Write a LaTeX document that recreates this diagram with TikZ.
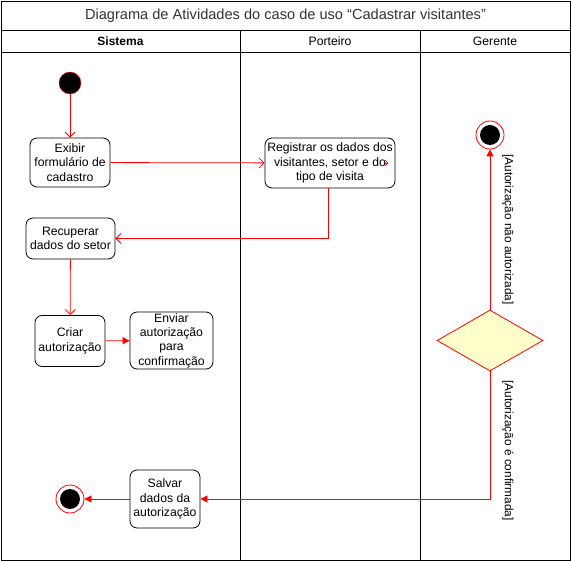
\documentclass[tikz,border=0pt]{standalone}
\usepackage{fontspec}
\setmainfont{Liberation Sans}
\usetikzlibrary{arrows.meta,shapes.geometric,positioning}

\tikzset{
  acao/.style={draw, line width=0.8pt, rounded corners=7pt, fill=white, align=center, inner sep=0pt},
  fluxo/.style={draw=red, line width=0.8pt, -{Straight Barb[length=5pt,width=10pt]}},
  fluxocheio/.style={draw=red, line width=0.8pt, -{Triangle[length=7pt,width=7pt]}},
  inicio/.style={circle, draw=red, fill=black, minimum size=22pt, inner sep=0pt},
  fim/.style={circle, draw=red, line width=0.8pt, fill=white, minimum size=28pt, inner sep=0pt,
    path picture={\fill[black] (path picture bounding box.center) circle (10pt);}},
  guarda/.style={rotate=-90, anchor=south, inner sep=12pt, font=\fontsize{11.8}{14}\selectfont}
}

\begin{document}
\begin{tikzpicture}[x=1pt, y=-1pt, font=\fontsize{12.2}{14.3}\selectfont]
	\useasboundingbox (0,0) rectangle (571,561);

	% raias
	\draw[line width=0.8pt] (1,1) rectangle (570,560);
	\draw[line width=0.8pt] (1,30) -- (570,30);
	\draw[line width=0.8pt] (1,52) -- (570,52);
	\draw[line width=0.8pt] (240,30) -- (240,560);
	\draw[line width=0.8pt] (420,30) -- (420,560);

	\node[text=black!80, font=\fontsize{14.6}{17}\selectfont] (titulo) at (285.5,15.5) {Diagrama de Atividades do caso de uso “Cadastrar visitantes”};
	\node[font=\bfseries\fontsize{12}{14}\selectfont] (sistema) at (120.5,41) {Sistema};
	\node (porteiro) at (330,41) {Porteiro};
	\node (gerente) at (495,41) {Gerente};

	% atividades
	\node[inicio] (inicio) at (70,83) {};
	\node[acao, minimum width=80pt, minimum height=49pt] (exibir) at (70,162.5) {Exibir\\formulário de\\cadastro};
	\node[acao, minimum width=130pt, minimum height=50pt] (registrar) at (330,163) {Registrar os dados dos\\visitantes, setor e do\\tipo de visita};
	\node[acao, minimum width=89pt, minimum height=41pt] (recuperar) at (70.5,238.5) {Recuperar\\dados do setor};
	\node[acao, minimum width=70pt, minimum height=51pt] (criar) at (70,341) {Criar\\autorização};
	\node[acao, minimum width=83pt, minimum height=57pt] (enviar) at (171.5,340.5) {Enviar\\autorização\\para\\confirmação};
	\node[acao, minimum width=70pt, minimum height=58pt] (salvar) at (165,499) {Salvar\\dados da\\autorização};
	\node[fim] (fimSistema) at (70,499) {};
	\node[fim] (fimGerente) at (490,135) {};
	\node[diamond, draw=red, line width=0.8pt, fill={rgb,255:red,255;green,255;blue,204}, minimum width=106pt, minimum height=61pt, inner sep=0pt] (decisao) at (490,340.5) {};

	% fluxos
	\draw[fluxo] (inicio) -- (exibir);
	\draw[fluxo] (exibir) -- (registrar);
	\draw[fluxo] ([xshift=-2pt]registrar.south) |- (recuperar.east);
	\draw[fluxo] (recuperar) -- (criar);
	\draw[fluxocheio] (criar) -- (enviar);
	\draw[fluxocheio] (decisao.north) -- node[guarda, pos=0.5] {[Autorização não autorizada]} (fimGerente);
	\draw[fluxocheio] (decisao.south) |- node[guarda, pos=0.31] {[Autorização é confirmada]} (salvar.east);
	\draw[fluxocheio] (salvar) -- (fimSistema);
	\draw[red, line width=0.8pt, -{Straight Barb[length=3pt,width=6pt]}] ([xshift=-10pt]registrar.east) -- ([xshift=-7pt]registrar.east);
\end{tikzpicture}
\end{document}
